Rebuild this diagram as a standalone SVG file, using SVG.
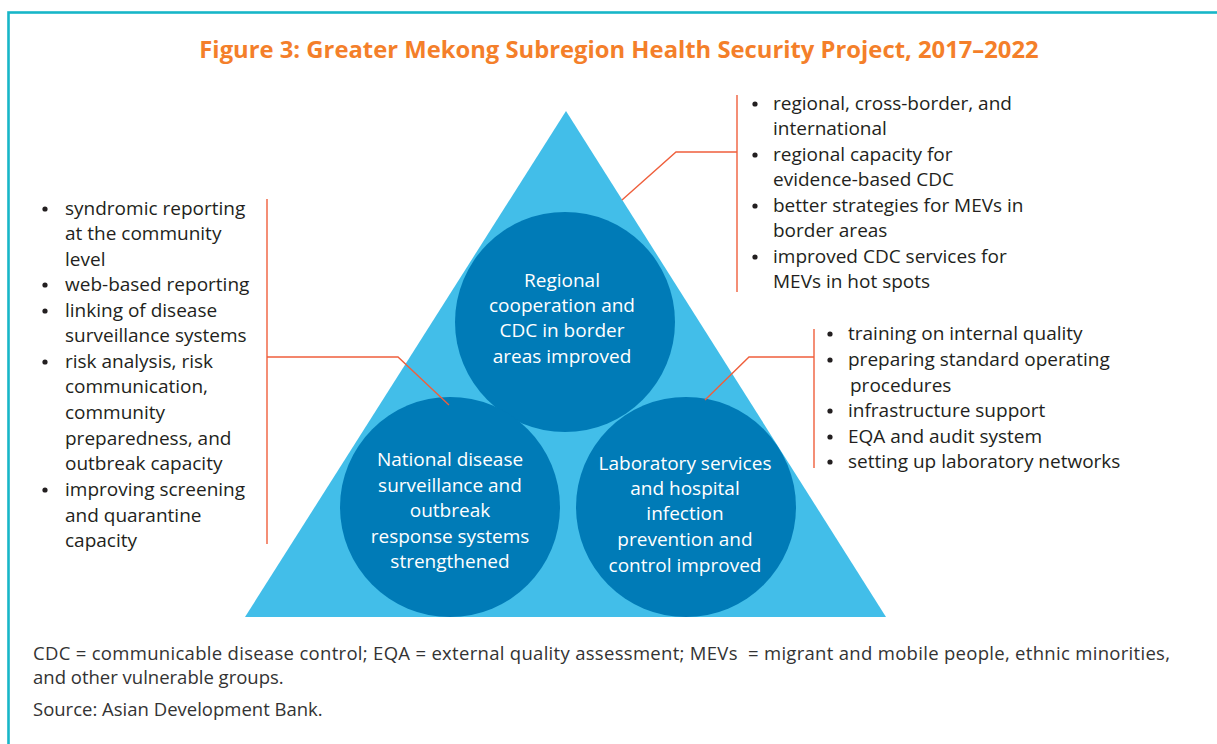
<svg xmlns="http://www.w3.org/2000/svg" width="1217" height="744" viewBox="0 0 1217 744">
<style>
.frame{fill:none;stroke:#17b6c8;stroke-width:2.6}
.title{font-family:"Open Sans",sans-serif;font-weight:bold;font-size:23.8px;fill:#f47f2a}
.tri{fill:#42bee9}
.circ{fill:#007bb7}
.ct{font-family:"Open Sans",sans-serif;font-size:19px;fill:#ffffff;text-anchor:middle}
.li{font-family:"Open Sans",sans-serif;font-size:19px;fill:#231f20}
.bul{fill:#231f20}
.conn{fill:none;stroke:#ef5f3c;stroke-width:1.4}
.foot{font-family:"Open Sans",sans-serif;font-size:18.5px;fill:#333333}
</style>
<rect class="frame" x="8.5" y="12.5" width="1240" height="780"/>
<g id="title"><text class="title" x="619" y="58" text-anchor="middle">Figure 3: Greater Mekong Subregion Health Security Project, 2017–2022</text></g>
<g id="triangle"><polygon class="tri" points="566,111 886,617 245,617"/></g>
<g id="node-regional">
<circle class="circ" cx="565" cy="322" r="110"/>
<text class="ct" x="562" y="287">Regional</text>
<text class="ct" x="562" y="312">cooperation and</text>
<text class="ct" x="562" y="337">CDC in border</text>
<text class="ct" x="562" y="363">areas improved</text>
</g>
<g id="node-national">
<circle class="circ" cx="450" cy="507" r="110"/>
<text class="ct" x="450" y="466">National disease</text>
<text class="ct" x="450" y="492">surveillance and</text>
<text class="ct" x="450" y="517">outbreak</text>
<text class="ct" x="450" y="543">response systems</text>
<text class="ct" x="450" y="568">strengthened</text>
</g>
<g id="node-laboratory">
<circle class="circ" cx="686" cy="507" r="110"/>
<text class="ct" x="685" y="470">Laboratory services</text>
<text class="ct" x="685" y="495">and hospital</text>
<text class="ct" x="685" y="520">infection</text>
<text class="ct" x="685" y="546">prevention and</text>
<text class="ct" x="685" y="572">control improved</text>
</g>
<g id="connectors">
<polyline class="conn" points="267,199 267,544"/>
<polyline class="conn" points="267,357 398,357 449,405"/>
<polyline class="conn" points="737,95 737,292"/>
<polyline class="conn" points="737,152 676,152 622,200"/>
<polyline class="conn" points="814,329 814,468"/>
<polyline class="conn" points="814,357 749,357 705,400"/>
</g>
<g id="list-left">
<circle class="bul" cx="45" cy="209" r="2.6"/><text class="li" x="65" y="215">syndromic reporting</text>
<text class="li" x="65" y="240">at the community</text>
<text class="li" x="65" y="266">level</text>
<circle class="bul" cx="45" cy="285" r="2.6"/><text class="li" x="65" y="291">web-based reporting</text>
<circle class="bul" cx="45" cy="311" r="2.6"/><text class="li" x="65" y="317">linking of disease</text>
<text class="li" x="65" y="342">surveillance systems</text>
<circle class="bul" cx="45" cy="362" r="2.6"/><text class="li" x="65" y="368">risk analysis, risk</text>
<text class="li" x="65" y="393">communication,</text>
<text class="li" x="65" y="419">community</text>
<text class="li" x="65" y="445">preparedness, and</text>
<text class="li" x="65" y="470">outbreak capacity</text>
<circle class="bul" cx="45" cy="490" r="2.6"/><text class="li" x="65" y="496">improving screening</text>
<text class="li" x="65" y="522">and quarantine</text>
<text class="li" x="65" y="547">capacity</text>
</g>
<g id="list-top-right">
<circle class="bul" cx="755" cy="104" r="2.6"/><text class="li" x="773" y="110">regional, cross-border, and</text>
<text class="li" x="773" y="135">international</text>
<circle class="bul" cx="755" cy="155" r="2.6"/><text class="li" x="773" y="161">regional capacity for</text>
<text class="li" x="773" y="186">evidence-based CDC</text>
<circle class="bul" cx="755" cy="206" r="2.6"/><text class="li" x="773" y="212">better strategies for MEVs in</text>
<text class="li" x="773" y="237">border areas</text>
<circle class="bul" cx="755" cy="257" r="2.6"/><text class="li" x="773" y="263">improved CDC services for</text>
<text class="li" x="773" y="288">MEVs in hot spots</text>
</g>
<g id="list-right">
<circle class="bul" cx="830" cy="334" r="2.6"/><text class="li" x="848" y="340">training on internal quality</text>
<circle class="bul" cx="830" cy="360" r="2.6"/><text class="li" x="848" y="366">preparing standard operating</text>
<text class="li" x="850" y="392">procedures</text>
<circle class="bul" cx="830" cy="411" r="2.6"/><text class="li" x="848" y="417">infrastructure support</text>
<circle class="bul" cx="830" cy="437" r="2.6"/><text class="li" x="848" y="443">EQA and audit system</text>
<circle class="bul" cx="830" cy="462" r="2.6"/><text class="li" x="848" y="468">setting up laboratory networks</text>
</g>
<g id="footer">
<text class="foot" x="33" y="660" textLength="1137" xml:space="preserve">CDC = communicable disease control; EQA = external quality assessment; MEVs  = migrant and mobile people, ethnic minorities,</text>
<text class="foot" x="33" y="684">and other vulnerable groups.</text>
<text class="foot" x="33" y="716">Source: Asian Development Bank.</text>
</g>
</svg>
